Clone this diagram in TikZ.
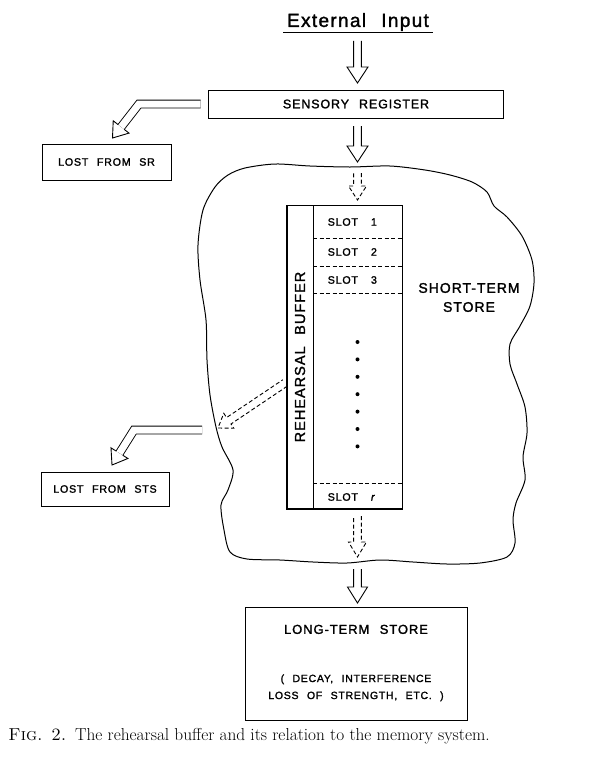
\documentclass[tikz,border=0pt]{standalone}
\usepackage{fontspec}
\newfontfamily\lett[LetterSpace=7,WordSpace=2.3,FakeBold=1.6]{Liberation Sans}
\usetikzlibrary{calc,positioning}

\tikzset{
  box/.style={draw, line width=1pt, inner sep=0pt, outer sep=0pt},
  lbl/.style={font=\lett\fontsize{#1}{#1}\selectfont},
  dsh/.style={dash pattern=on 4pt off 2.5pt},
  hshaft/.style={double, double distance=7pt, line width=.9pt},
  hollow/.style 2 args={to path={
      ($(\tikztostart)!3.9pt!90:(\tikztotarget)$)
      -- ($(\tikztotarget)!#1!(\tikztostart)!3.9pt!90:(\tikztotarget)$)
      -- ($(\tikztotarget)!#1!(\tikztostart)!#2!90:(\tikztotarget)$)
      -- (\tikztotarget)
      -- ($(\tikztotarget)!#1!(\tikztostart)!#2!-90:(\tikztotarget)$)
      -- ($(\tikztotarget)!#1!(\tikztostart)!3.9pt!-90:(\tikztotarget)$)
      -- ($(\tikztostart)!3.9pt!-90:(\tikztotarget)$)}},
  hhead/.style 2 args={to path={
      ($(\tikztotarget)!#1!(\tikztostart)!3.9pt!90:(\tikztotarget)$)
      -- ($(\tikztotarget)!#1!(\tikztostart)!#2!90:(\tikztotarget)$)
      -- (\tikztotarget)
      -- ($(\tikztotarget)!#1!(\tikztostart)!#2!-90:(\tikztotarget)$)
      -- ($(\tikztotarget)!#1!(\tikztostart)!3.9pt!-90:(\tikztotarget)$)}},
}

\begin{document}
\begin{tikzpicture}[x=1pt, y=-1pt, line width=.9pt]
    \useasboundingbox (0,0) rectangle (599,772);
    % Eingang
    \node[lbl=19, inner sep=1.5pt] (ext) at (358,22) {External Input};
    \draw ([xshift=-2pt]ext.south west) -- ([xshift=2pt]ext.south east);
    % sensorisches Register
    \node[box, lbl=12.5, minimum width=295, minimum height=28] (sr) at (356,104) {SENSORY REGISTER};
    \node[box, lbl=10.7, minimum width=129, minimum height=36] (lostsr) at (106.5,162) {LOST FROM SR};
    % Kurzzeitspeicher
    \draw[line width=1pt] plot[smooth cycle, tension=.5] coordinates {
        (245,168) (275,164) (310,166) (350,167) (390,166) (425,170) (450,175)
        (472,182) (487,192) (494,206) (507,217) (522,236) (532,260) (534,283)
        (530,306) (520,326) (510,344) (510,364) (517,384) (525,407) (527,433)
        (523,457) (525,480) (516,503) (513,520) (515,543) (507,557) (480,563)
        (447,564) (413,562) (380,560) (347,563) (313,562) (280,560) (247,559)
        (230,552) (224,530) (221,505) (228,490) (233,470) (222,447) (216,427)
        (210,395) (207,360) (206,320) (200,280) (198,245) (203,210) (215,187)
        (228,175)};
    \node[lbl=14, align=center] (sts) at (469,297.5) {SHORT-TERM\\[5pt]STORE};
    \node[box, lbl=10.7, minimum width=128, minimum height=34] (loststs) at (105,489) {LOST FROM STS};
    % Rehearsal-Puffer
    \node[box, minimum width=26, minimum height=304] (rb) at (300,357) {};
    \node[lbl=14.5, rotate=90] (rbtext) at (rb) {REHEARSAL BUFFER};
    \node[box, minimum width=89, minimum height=304, right=0pt of rb] (slots) {};
    \draw[line width=2pt] (rb.north west) -- (rb.south west) -- (slots.south east);
    \foreach \d in {33,61,88,278}
        \draw[dsh] ([yshift=-\d]slots.north west) -- ([yshift=-\d]slots.north east);
    \foreach \n/\d in {1/17,2/47,3/75}
        \node[lbl=10.7, anchor=west] (slot\n) at ([xshift=11,yshift=-\d]slots.north west) {SLOT\hspace{13pt}\n};
    \node[lbl=10.7, anchor=west] (slotr) at ([xshift=11,yshift=-292]slots.north west) {SLOT\hspace{13pt}\textit{r}};
    \foreach \i in {0,...,6}
        \fill ([yshift=-137-17.4*\i]slots.north) circle (2);
    % Langzeitspeicher
    \node[box, minimum width=222, minimum height=113] (lts) at (356,663.5) {};
    \node[lbl=13, below=14pt of lts.north] (ltsname) {LONG-TERM STORE};
    \node[lbl=10.5, align=center, above=15pt of lts.south] (ltsnote) {( DECAY, INTERFERENCE\\[6.5pt]LOSS OF STRENGTH, ETC. )};
    % Pfeilenden
    \coordinate (stsN) at (357.5,167);
    \coordinate (stsS) at (357.5,564);
    \coordinate (leak) at (218,428);
    \coordinate (bend1) at (139,104);
    \coordinate (bend2) at (134,430);
    \coordinate (out2) at (202,430);
    % Pfeile
    \draw ($(ext.south -| slots.north)+(0,8)$) to[hollow={16pt}{10.5pt}] ($(sr.north -| slots.north)+(0,-7)$);
    \draw ($(sr.south -| slots.north)+(0,8)$) to[hollow={16pt}{10.5pt}] ($(stsN)+(0,-5)$);
    \draw[dsh] ($(stsN)+(0,6)$) to[hollow={14pt}{9pt}] ($(slots.north)+(0,-5)$);
    \draw[dsh] ($(slots.south)+(0,7)$) to[hollow={15pt}{9pt}] ($(stsS)+(0,-7)$);
    \draw ($(stsS)+(0,5)$) to[hollow={16pt}{10pt}] ($(lts.north -| slots.north)+(0,-4)$);
    \draw[dsh] ($(rb.west)+(-2,26)$) to[hollow={13pt}{9pt}] (leak);
    % Verluste
    \draw[hshaft, shorten >=14pt] ($(sr.west)+(-8,0)$) -- (bend1) -- ($(lostsr.north)+(6,-6)$);
    \draw (bend1) to[hhead={14pt}{10pt}] ($(lostsr.north)+(6,-6)$);
    \draw[hshaft, shorten >=14pt] (out2) -- (bend2) -- ($(loststs.north)+(7,-7)$);
    \draw (bend2) to[hhead={14pt}{10pt}] ($(loststs.north)+(7,-7)$);
    % Bildunterschrift
    \node[anchor=base west, inner sep=0pt, font=\fontsize{17.3}{20}\selectfont] (caption) at (8,740)
        {\textsc{Fig. 2.}\enspace The rehearsal buffer and its relation to the memory system.};
\end{tikzpicture}
\end{document}
